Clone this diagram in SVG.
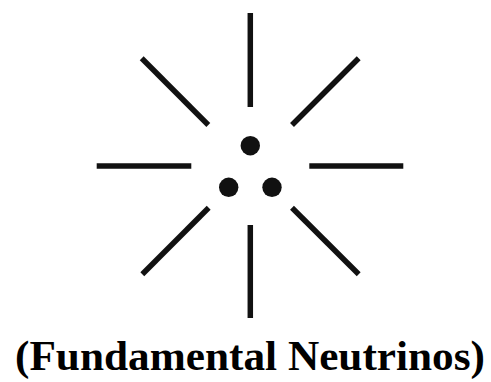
<svg xmlns="http://www.w3.org/2000/svg" width="491" height="382" viewBox="0 0 491 382">
<style>
.ray{stroke:#111;stroke-width:5.5;stroke-linecap:butt;fill:none}
.dot{fill:#111}
.lbl{font-family:"Liberation Serif","Times New Roman",serif;font-weight:bold;font-size:43px;fill:#000}
</style>
<rect width="491" height="382" fill="#fff"/>
<g id="rays">
<line class="ray" x1="250.3" y1="13" x2="250.3" y2="107"/>
<line class="ray" x1="250.3" y1="225" x2="250.3" y2="318"/>
<line class="ray" x1="96.7" y1="166" x2="191.3" y2="166"/>
<line class="ray" x1="309.3" y1="166" x2="403.3" y2="166"/>
<line class="ray" x1="141.7" y1="58.3" x2="208.3" y2="125"/>
<line class="ray" x1="358.7" y1="58.3" x2="292" y2="125"/>
<line class="ray" x1="208.7" y1="207.7" x2="142.3" y2="274.3"/>
<line class="ray" x1="292" y1="207.7" x2="358.7" y2="274.3"/>
</g>
<g id="neutrinos">
<circle class="dot" cx="250.3" cy="145.7" r="9.7"/>
<circle class="dot" cx="228.7" cy="187.3" r="9.7"/>
<circle class="dot" cx="272" cy="187.3" r="9.7"/>
</g>
<g id="label">
<text class="lbl" x="15" y="370" textLength="470" lengthAdjust="spacingAndGlyphs">(Fundamental Neutrinos)</text>
</g>
</svg>
